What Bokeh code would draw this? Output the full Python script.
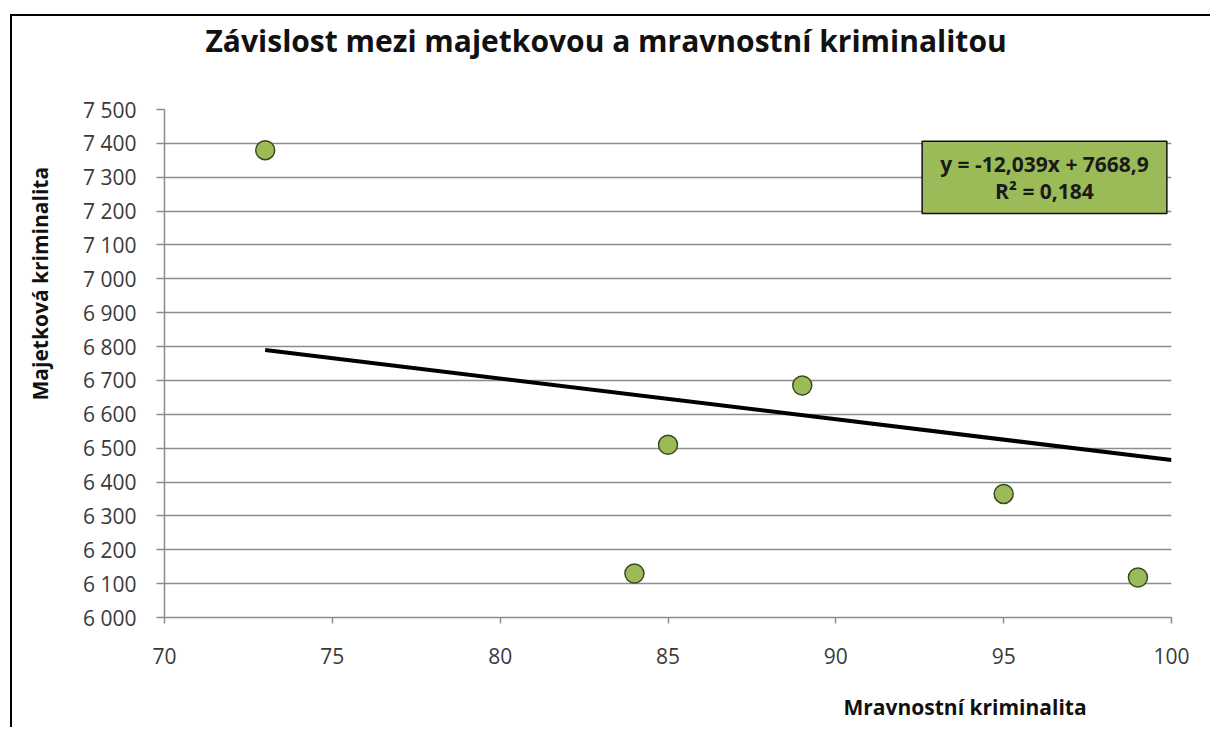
from bokeh.plotting import figure
from bokeh.models import (ColumnDataSource, FixedTicker, Label, Range1d, Title)
from bokeh.embed import file_html
from bokeh.resources import INLINE

# ---------------- data ----------------
mravnostni = [73, 84, 85, 89, 95, 99]          # x: Mravnostní kriminalita
majetkova = [7380, 6130, 6510, 6685, 6365, 6118]  # y: Majetková kriminalita

trend_slope = -12.039
trend_intercept = 7668.9
r_squared = 0.184
trend_x_end = 100

x_ticks = [70, 75, 80, 85, 90, 95, 100]
x_tick_labels = ["70", "75", "80", "85", "90", "95", "100"]
y_ticks = [6000, 6100, 6200, 6300, 6400, 6500, 6600, 6700,
           6800, 6900, 7000, 7100, 7200, 7300, 7400, 7500]
y_tick_labels = ["6 000", "6 100", "6 200", "6 300", "6 400", "6 500",
                 "6 600", "6 700", "6 800", "6 900", "7 000", "7 100",
                 "7 200", "7 300", "7 400", "7 500"]

title_text = "Závislost mezi majetkovou a mravnostní kriminalitou"
x_title = "Mravnostní kriminalita"
y_title = "Majetková kriminalita"

# ---------------- layout ----------------
FONT = "Open Sans"
W, H = 1200, 713
BL, BR, BT, BB = 152, 41, 92, 112          # frame borders (px)
FW, FH = W - BL - BR, H - BT - BB          # frame size (px)
x0, x1 = x_ticks[0], x_ticks[-1]
y0, y1 = y_ticks[0], y_ticks[-1]


def dx(px):   # frame-relative horizontal pixel offset -> data x
    return x0 + px * (x1 - x0) / FW


def dy(px):   # pixel offset above the frame bottom -> data y
    return y0 + px * (y1 - y0) / FH


p = figure(width=W, height=H, output_backend="svg", toolbar_location=None,
           x_range=Range1d(x0, x1), y_range=Range1d(y0, y1),
           min_border_left=BL, min_border_right=BR,
           min_border_top=BT, min_border_bottom=BB)
p.margin = (16, 0, 0, 12)
p.styles = {"box-shadow": "-2px -2px 0 0 #000000"}
p.background_fill_color = "white"
p.border_fill_color = "white"
p.outline_line_color = None

# grid
p.xgrid.visible = False
p.ygrid.ticker = FixedTicker(ticks=y_ticks)
p.ygrid.grid_line_color = "#8C8C8C"
p.ygrid.grid_line_width = 1.5

# axes
GRAY = "#8C8C8C"
for ax in (p.xaxis[0], p.yaxis[0]):
    ax.axis_line_color = GRAY
    ax.axis_line_width = 1.5
    ax.major_tick_line_color = GRAY
    ax.major_tick_line_width = 1.5
    ax.minor_tick_line_color = None
    ax.major_tick_in = 0
    ax.major_label_text_font = FONT
    ax.major_label_text_font_size = "21px"
    ax.major_label_text_color = "#3A3A3A"

p.xaxis.ticker = FixedTicker(ticks=x_ticks)
p.xaxis.major_label_overrides = dict(zip(x_ticks, x_tick_labels))
p.xaxis.major_tick_out = 6
p.xaxis.major_label_standoff = 24

p.yaxis.ticker = FixedTicker(ticks=y_ticks)
p.yaxis.major_label_overrides = dict(zip(y_ticks, y_tick_labels))
p.yaxis.major_tick_out = 8
p.yaxis.major_label_standoff = 20


# ---------------- titles (spacer panel + real title) ----------------
def spacer(gap):
    return Title(text=" ", text_font_size="1px", standoff=gap)


p.title = Title(text=title_text, align="left", offset=41, standoff=2,
                text_font=FONT, text_font_style="bold",
                text_font_size="30px", text_color="#111111")
p.add_layout(spacer(45), "above")

p.add_layout(spacer(20), "below")
p.add_layout(Title(text=x_title, align="left", offset=679, standoff=2,
                   text_font=FONT, text_font_style="bold",
                   text_font_size="21px", text_color="#111111"), "below")

p.add_layout(spacer(23), "left")
p.add_layout(Title(text=y_title, align="left", offset=217, standoff=2,
                   text_font=FONT, text_font_style="bold",
                   text_font_size="21px", text_color="#111111"), "left")

# ---------------- marks ----------------
src = ColumnDataSource(data=dict(x=mravnostni, y=majetkova))
trend_x = [min(mravnostni), trend_x_end]
trend_y = [trend_slope * v + trend_intercept for v in trend_x]
p.line(trend_x, trend_y, line_color="black", line_width=4)
p.scatter("x", "y", source=src, marker="circle", size=19,
          fill_color="#9BBB59", line_color="#3D4A22", line_width=1.5)

# equation box
eq_text = ("y = " + f"{trend_slope:.3f}".replace(".", ",") + "x + "
           + f"{trend_intercept:.1f}".replace(".", ",") + "\n"
           + "R² = " + f"{r_squared:.3f}".replace(".", ","))
eq = Label(x=dx(880), y=dy(FH - 68), text=eq_text, text_align="center",
           text_baseline="middle", text_font=FONT, text_font_style="bold",
           text_font_size="21px", text_color="#1A1A1A", text_line_height=0.94,
           background_fill_color="#9BBB59", border_line_color="#111111",
           border_line_width=1.5, padding=(18, 9))
p.add_layout(eq)

open("out.html", "w").write(file_html(p, INLINE))
